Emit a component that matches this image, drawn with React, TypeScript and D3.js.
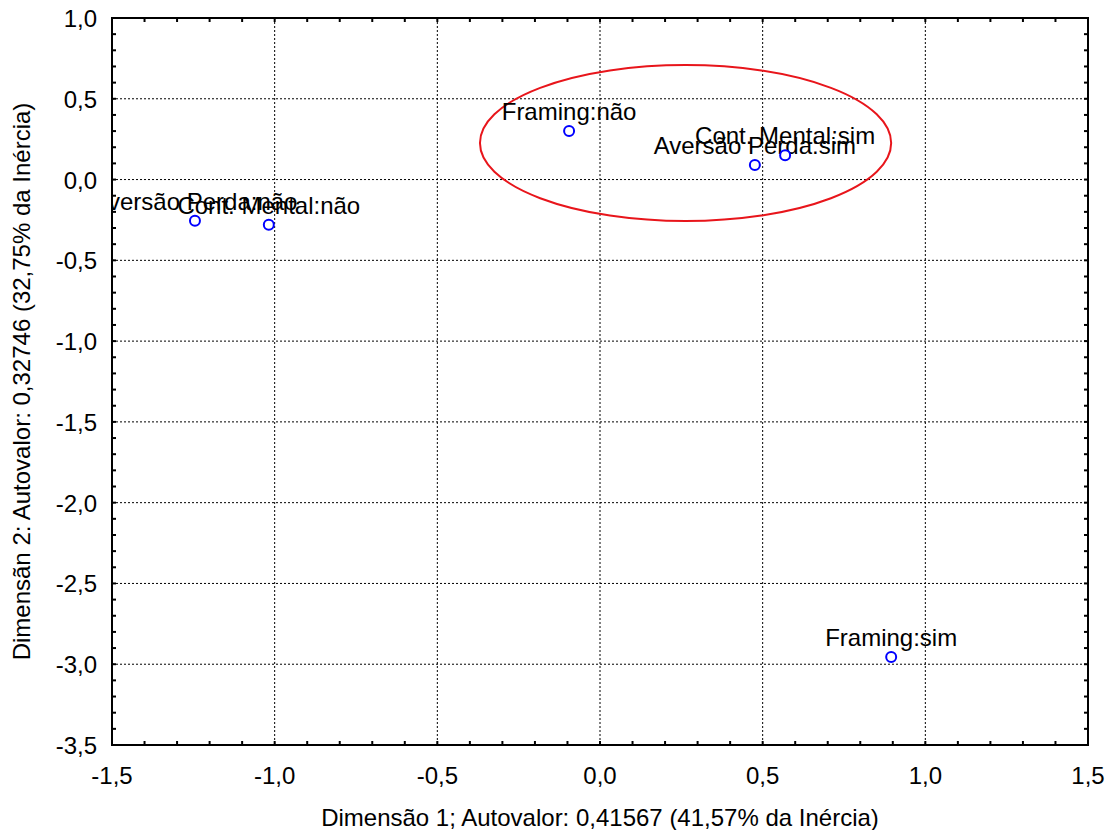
import React, { useEffect, useRef } from 'react';
import * as d3 from 'd3';

const LABELS = [
  'Aversão Perda:não',
  'Cont. Mental:não',
  'Framing:não',
  'Aversão Perda:sim',
  'Cont. Mental:sim',
  'Framing:sim',
];
const DIM1 = [-1.245, -1.018, -0.095, 0.476, 0.569, 0.895];
const DIM2 = [-0.255, -0.28, 0.3, 0.09, 0.15, -2.955];

const X_TICKS = [-1.5, -1.0, -0.5, 0.0, 0.5, 1.0, 1.5];
const Y_TICKS = [1.0, 0.5, 0.0, -0.5, -1.0, -1.5, -2.0, -2.5, -3.0, -3.5];

// ellipse drawn around the "sim" cluster (data units)
const ELLIPSE = { cx: 0.263, cy: 0.226, rx: 0.632, ry: 0.483 };

const W = 1113;
const H = 830;
const M = { left: 112, right: 25, top: 18, bottom: 85 };
const FONT = 'Liberation Sans, Arial, sans-serif';

const fmt = (v: number) => d3.format('.1f')(v).replace('.', ',').replace('−', '-');

const App: React.FC = () => {
  const svgRef = useRef<SVGSVGElement>(null);

  useEffect(() => {
    if (!svgRef.current) return;
    const svg = d3.select(svgRef.current);
    svg.selectAll('*').remove();

    const x = d3.scaleLinear().domain([-1.5, 1.5]).range([M.left, W - M.right]);
    const y = d3.scaleLinear().domain([-3.5, 1.0]).range([H - M.bottom, M.top]);
    const [x0, x1] = x.range();
    const [y1, y0] = y.range();

    svg.append('rect').attr('width', W).attr('height', H).attr('fill', '#fff');

    svg.append('defs').append('clipPath').attr('id', 'plotclip')
      .append('rect').attr('x', x0).attr('y', y0).attr('width', x1 - x0).attr('height', y1 - y0);

    // grid
    const grid = svg.append('g').attr('stroke', '#000').attr('stroke-width', 1).attr('stroke-dasharray', '2,2');
    X_TICKS.slice(1, -1).forEach((t) => {
      grid.append('line').attr('x1', x(t)).attr('x2', x(t)).attr('y1', y0).attr('y2', y1);
    });
    Y_TICKS.slice(1, -1).forEach((t) => {
      grid.append('line').attr('x1', x0).attr('x2', x1).attr('y1', y(t)).attr('y2', y(t));
    });

    // minor ticks, inside, on all four sides
    const ticks = svg.append('g').attr('stroke', '#000').attr('stroke-width', 2);
    d3.range(-15, 16).map((i) => i / 10).forEach((t) => {
      ticks.append('line').attr('x1', x(t)).attr('x2', x(t)).attr('y1', y1).attr('y2', y1 - 4);
      ticks.append('line').attr('x1', x(t)).attr('x2', x(t)).attr('y1', y0).attr('y2', y0 + 4);
    });
    d3.range(-35, 11).map((i) => i / 10).forEach((t) => {
      ticks.append('line').attr('x1', x0).attr('x2', x0 + 4).attr('y1', y(t)).attr('y2', y(t));
      ticks.append('line').attr('x1', x1).attr('x2', x1 - 4).attr('y1', y(t)).attr('y2', y(t));
    });

    // frame
    svg.append('rect')
      .attr('x', x0).attr('y', y0).attr('width', x1 - x0).attr('height', y1 - y0)
      .attr('fill', 'none').attr('stroke', '#000').attr('stroke-width', 2);

    // tick labels
    X_TICKS.forEach((t) => {
      svg.append('text').attr('x', x(t)).attr('y', y1 + 39)
        .attr('text-anchor', 'middle').attr('font-family', FONT).attr('font-size', '24px')
        .text(fmt(t));
    });
    Y_TICKS.forEach((t) => {
      svg.append('text').attr('x', x0 - 15).attr('y', y(t) + 9)
        .attr('text-anchor', 'end').attr('font-family', FONT).attr('font-size', '24px')
        .text(fmt(t));
    });

    // axis titles
    svg.append('text').attr('x', (x0 + x1) / 2).attr('y', 826)
      .attr('text-anchor', 'middle').attr('font-family', FONT).attr('font-size', '24px')
      .text('Dimensão 1; Autovalor: 0,41567 (41,57% da Inércia)');
    svg.append('text')
      .attr('transform', `translate(30, ${(y0 + y1) / 2}) rotate(-90)`)
      .attr('text-anchor', 'middle').attr('font-family', FONT).attr('font-size', '24px')
      .text('Dimensãn 2: Autovalor: 0,32746 (32,75% da Inércia)');

    const plot = svg.append('g').attr('clip-path', 'url(#plotclip)');

    // ellipse
    plot.append('ellipse')
      .attr('cx', x(ELLIPSE.cx)).attr('cy', y(ELLIPSE.cy))
      .attr('rx', x(ELLIPSE.cx + ELLIPSE.rx) - x(ELLIPSE.cx))
      .attr('ry', y(ELLIPSE.cy - ELLIPSE.ry) - y(ELLIPSE.cy))
      .attr('fill', 'none').attr('stroke', '#e8151b').attr('stroke-width', 2);

    // points and labels
    LABELS.forEach((label, i) => {
      plot.append('text')
        .attr('x', x(DIM1[i])).attr('y', y(DIM2[i]) - 11)
        .attr('text-anchor', 'middle').attr('font-family', FONT).attr('font-size', '24px')
        .attr('fill', '#000').text(label);
    });
    LABELS.forEach((_, i) => {
      plot.append('circle')
        .attr('cx', x(DIM1[i])).attr('cy', y(DIM2[i])).attr('r', 5)
        .attr('fill', '#fff').attr('stroke', '#0000ff').attr('stroke-width', 2);
    });
  }, []);

  return (
    <svg ref={svgRef} width={W} height={H} style={{ position: 'absolute', left: 0, top: 0 }} />
  );
};

export default App;
